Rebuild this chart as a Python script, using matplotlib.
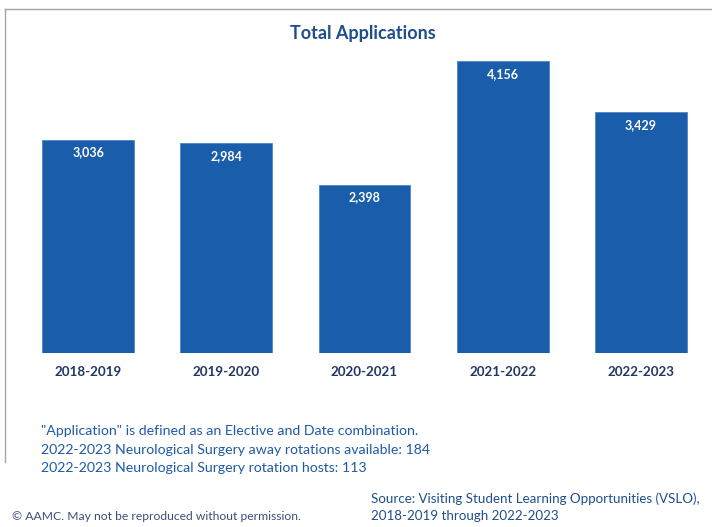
import matplotlib.pyplot as plt
import numpy as np

plt.rcParams['font.family'] = ['Lato', 'DejaVu Sans']

years = ["2018-2019", "2019-2020", "2020-2021", "2021-2022", "2022-2023"]
applications = [3036, 2984, 2398, 4156, 3429]

notes = [
    '"Application" is defined as an Elective and Date combination.',
    "2022-2023 Neurological Surgery away rotations available: 184",
    "2022-2023 Neurological Surgery rotation hosts: 113",
]
source = "Source: Visiting Student Learning Opportunities (VSLO),\n2018-2019 through 2022-2023"
copyright_note = "\u00a9 AAMC. May not be reproduced without permission."

W, H = 712, 527
fig = plt.figure(figsize=(W / 100, H / 100), dpi=100)

# axes placed in pixel coordinates (left 19, right 710, top 51, bottom 353)
ax = fig.add_axes([19 / W, 1 - 353 / H, (710 - 19) / W, (353 - 51) / H])
x = np.arange(len(years))
bars = ax.bar(x, applications, width=0.665, color="#1A5DAB", edgecolor="#4F86C6", linewidth=0.6)
ax.set_xlim(-0.5, len(years) - 0.5)
ax.set_ylim(0, 4300)
ax.axis("off")

for xi, v in zip(x, applications):
    ax.text(xi, v - 95, f"{v:,}", ha="center", va="top", color="white",
            fontsize=9, fontweight="bold")
    ax.text(xi, -190, years[xi], ha="center", va="top", color="#1F3864",
            fontsize=9.6, fontweight="bold")

fig.text(363 / W, 1 - 33 / H, "Total Applications", ha="center", va="center",
         color="#1F4E8C", fontsize=13, fontweight="bold")

# frame lines (top and left)
fig.add_artist(plt.Line2D([5 / W, 1], [1 - 9 / H, 1 - 9 / H], color="#A6A6A6", lw=1))
fig.add_artist(plt.Line2D([5 / W, 5 / W], [1 - 9 / H, 1 - 462 / H], color="#A6A6A6", lw=1))

for i, line in enumerate(notes):
    fig.text(41 / W, 1 - (431 + i * 18.5) / H, line, ha="left", va="center",
             color="#1F5AA6", fontsize=10.2)

fig.text(12 / W, 1 - 517 / H, copyright_note, ha="left", va="center",
         color="#3A4F7A", fontsize=8.7)
fig.text(371 / W, 1 - 507 / H, source, ha="left", va="center",
         color="#1F4E8C", fontsize=9.6, linespacing=1.45)

fig.savefig("out.png", dpi=100)
